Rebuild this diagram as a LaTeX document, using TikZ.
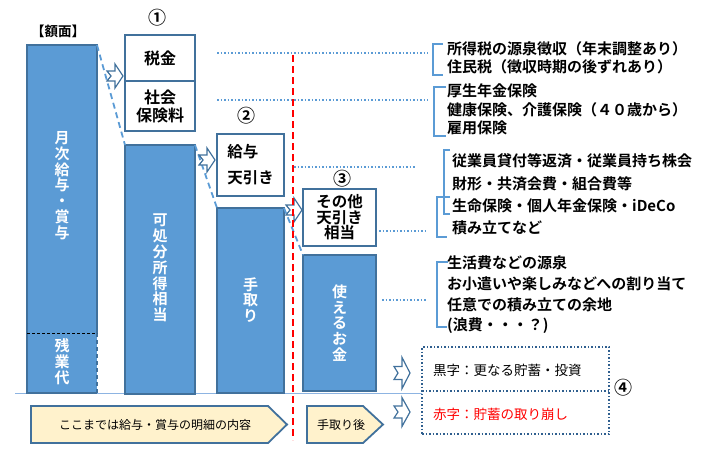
\documentclass[tikz,border=0pt]{standalone}
\usepackage{fontspec}
\setmainfont{Noto Sans CJK JP}[BoldFont={Noto Sans CJK JP Bold}]
\definecolor{barfill}{HTML}{5B9BD5}
\definecolor{barline}{HTML}{41719C}
\definecolor{lightline}{HTML}{5B9BD5}
\definecolor{paleyellow}{HTML}{FFF2CC}
\definecolor{boxdot}{HTML}{2F5F8F}
\definecolor{baseblue}{HTML}{8DB4E2}
\tikzset{
  bar/.style={fill=barfill, draw=barline, line width=1.8pt, inner sep=0pt, outer sep=0pt, anchor=north west},
  wbox/.style={fill=white, draw=barline, line width=1.8pt, inner sep=0pt, outer sep=0pt, anchor=north west},
  vtext/.style={text=white, font=\bfseries\fontsize{15}{15.8}\selectfont, align=center, inner sep=0pt},
  btext/.style={font=\bfseries\fontsize{16}{18}\selectfont, align=center},
  link/.style={draw=lightline, line width=1.8pt, dash pattern=on 6pt off 4pt},
  dotline/.style={draw=lightline, line width=1.5pt, dash pattern=on 1.5pt off 2pt},
  brack/.style={draw=lightline, line width=1.8pt},
  redline/.style={draw=red, line width=1.8pt, dash pattern=on 7pt off 4pt},
  note/.style={font=\bfseries\fontsize{15}{18.5}\selectfont, align=left, anchor=west, inner sep=0pt},
  num/.style={font=\bfseries\fontsize{18}{18}\selectfont, inner sep=0pt},
  tag/.style={fill=paleyellow, draw=barline, line width=1.8pt, line join=miter},
  tagtext/.style={font=\fontsize{12}{14}\selectfont, inner sep=0pt},
  arrowline/.style={draw=barline, fill=white, line width=1.2pt, line join=miter},
  notch/.pic={\path[arrowline] (-8,-5)--(0,-5)--(0,-12)--(8,0)--(0,12)--(0,5)--(-8,5)--(-4,0)--cycle;}
}
\begin{document}
\begin{tikzpicture}[x=1pt,y=-1pt]
\useasboundingbox (0,0) rectangle (714,455);

% base line
\coordinate (base0) at (15,393);
\coordinate (base1) at (422,393);
\draw[draw=baseblue, line width=1pt] (base0) -- (base1);

% bar 1 (fill only, borders drawn separately)
\node[bar, draw=none, minimum width=70pt, minimum height=348pt] (b1) at (27,45) {};
\coordinate (s1) at (27,333);
\coordinate (s2) at (97,333);
\draw[draw=barline, line width=1.8pt, line join=miter] (s1) -- (b1.north west) -- (b1.north east) -- (s2);
\draw[draw=barline, line width=1.8pt, line join=miter] (s1) -- (b1.south west) -- (b1.south east);
\draw[draw=barline, line width=1.8pt, dash pattern=on 4pt off 3pt] (b1.south east) -- (s2);
\draw[black, line width=0.8pt, dash pattern=on 3pt off 2pt] (s1) -- (s2);
\node[vtext] (b1t) at (62,185.5) {月\\次\\給\\与\\・\\賞\\与};
\node[vtext] (b1z) at (62,362) {残\\業\\代};

% bar 2
\node[bar, minimum width=70pt, minimum height=249pt] (b2) at (125,145) {};
\node[vtext] (b2t) at (160,268) {可\\処\\分\\所\\得\\相\\当};

% bar 3
\node[bar, minimum width=67pt, minimum height=185pt] (b3) at (217,208) {};
\node[vtext] (b3t) at (250.5,300) {手\\取\\り};

% bar 4
\node[bar, minimum width=73pt, minimum height=136pt] (b4) at (303,255) {};
\node[vtext] (b4t) at (339.5,323) {使\\え\\る\\お\\金};

% white boxes
\node[wbox, btext, minimum width=70pt, minimum height=46pt] (tax) at (125,35) {税金};
\node[wbox, btext, minimum width=70pt, minimum height=50pt] (ins) at (125,81) {社会\\保険料};
\node[wbox, minimum width=67pt, minimum height=62pt, font=\bfseries\fontsize{15.5}{26}\selectfont, align=left] (ded) at (217,134) {給与\\天引き};
\node[wbox, minimum width=73pt, minimum height=57pt, font=\bfseries\fontsize{15.5}{15.5}\selectfont, align=center] (oth) at (303,189) {その他\\天引き\\相当};

% dashed links between bars
\draw[link] (b1.north east) -- (b2.north west);
\draw[link] (b2.north east) -- (b3.north west);
\draw[link] (b3.north east) -- (b4.north west);

% block arrows
\pic at (115,76) {notch};
\pic at (207,160) {notch};
\pic at (294,210) {notch};
\pic[yscale=1.3] at (402,373) {notch};
\pic[yscale=1.2] at (402,412) {notch};

% red dashed line
\coordinate (r0) at (293,55);
\coordinate (r1) at (293,440);
\draw[redline] (r0) -- (r1);

% dotted leaders
\coordinate (d1a) at (217,53);  \coordinate (d1b) at (428,53);
\coordinate (d2a) at (217,100); \coordinate (d2b) at (428,100);
\coordinate (d3a) at (294,167); \coordinate (d3b) at (415,167);
\coordinate (d4a) at (379,231); \coordinate (d4b) at (427,231);
\coordinate (d5a) at (382,300); \coordinate (d5b) at (427,300);
\draw[dotline] (d1a) -- (d1b);
\draw[dotline] (d2a) -- (d2b);
\draw[dotline] (d3a) -- (d3b);
\draw[dotline] (d4a) -- (d4b);
\draw[dotline] (d5a) -- (d5b);

% brackets
\draw[brack] (443,44) -- (433,44) -- (433,75) -- (443,75);
\draw[brack] (446,87) -- (434,87) -- (434,136) -- (446,136);
\draw[brack] (450,150) -- (444,150) -- (444,214) -- (450,214);
\draw[brack] (450,197) -- (437,197) -- (437,237) -- (447,237);
\draw[brack] (448,262) -- (437,262) -- (437,327) -- (447,327);

% notes
\node[note] (n1) at (447,58) {所得税の源泉徴収（年末調整あり）\\住民税（徴収時期の後ずれあり）};
\node[note] (n2) at (447,109.5) {厚生年金保険\\健康保険、介護保険（４０歳から）\\雇用保険};
\node[note, font=\bfseries\fontsize{15}{22.4}\selectfont] (n3) at (452,194.5) {従業員貸付等返済・従業員持ち株会\\財形・共済会費・組合費等\\生命保険・個人年金保険・iDeCo\\積み立てなど};
\node[note, font=\bfseries\fontsize{15}{20.7}\selectfont] (n4) at (447,295) {生活費などの源泉\\お小遣いや楽しみなどへの割り当て\\任意での積み立ての余地\\(浪費・・・？)};

% result box
\node[draw=boxdot, line width=1.5pt, dash pattern=on 1.5pt off 2pt, minimum width=187pt, minimum height=87pt, inner sep=0pt, outer sep=0pt, anchor=north west] (res) at (422,347) {};
\coordinate (m0) at (422,391);
\coordinate (m1) at (609,391);
\draw[draw=boxdot, line width=1.5pt, dash pattern=on 1.5pt off 2pt] (m0) -- (m1);
\node[font=\fontsize{13.5}{15}\selectfont, anchor=west, inner sep=0pt] (black) at (433,370) {黒字：更なる貯蓄・投資};
\node[font=\fontsize{13.5}{15}\selectfont, anchor=west, inner sep=0pt, text=red] (redt) at (433,414) {赤字：貯蓄の取り崩し};

% numbers and title
\node[font=\bfseries\fontsize{13.5}{15}\selectfont, inner sep=0pt] (title) at (58,31) {【額面】};
\node[num] (c1) at (157,18) {①};
\node[num] (c2) at (246,116) {②};
\node[num] (c3) at (342,179) {③};
\node[num] (c4) at (623,388) {④};

% yellow tags
\draw[tag] (31,406) -- (268,406) -- (287,424.5) -- (268,443) -- (31,443) -- cycle;
\node[tagtext] (tg1) at (155,424.5) {ここまでは給与・賞与の明細の内容};
\draw[tag] (307,406) -- (363,406) -- (383,424.5) -- (363,443) -- (307,443) -- cycle;
\node[tagtext] (tg2) at (341,424.5) {手取り後};
\end{tikzpicture}
\end{document}
